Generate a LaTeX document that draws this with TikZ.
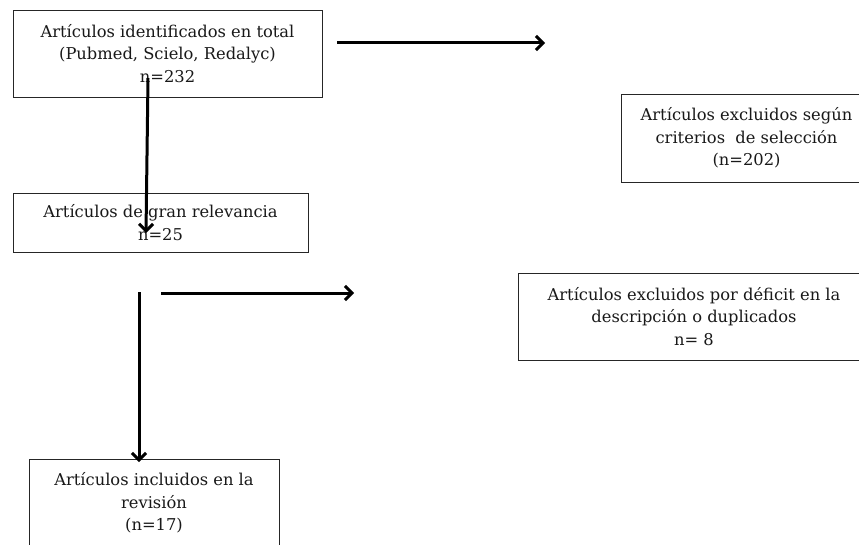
\documentclass[tikz,border=0pt]{standalone}
\usepackage{fontspec}
\setmainfont{DejaVu Serif}
\usetikzlibrary{arrows.meta, positioning}

\begin{document}
\begin{tikzpicture}[x=1pt, y=-1pt, >={Straight Barb[length=7pt, width=14pt]},
  flowbox/.style={draw=black!85, line width=0.9pt, align=center, inner sep=0pt,
                  font=\fontsize{16.3}{22.5}\selectfont, text=black!90},
  flowarrow/.style={->, line width=3pt}
]

% Frame
\useasboundingbox (0,0) rectangle (859,545);
\clip (0,0) rectangle (859,545);
\fill[white] (0,0) rectangle (859,545);

% Boxes
\node[flowbox, minimum width=309pt, minimum height=87pt] (total) at (167.5,53.5)
  {Artículos identificados en total\\(Pubmed, Scielo, Redalyc)\\n=232};
\node[flowbox, minimum width=295pt, minimum height=59pt] (relev) at (160.5,222.5)
  {Artículos de gran relevancia\\n=25};
\node[flowbox, minimum width=251pt, minimum height=88pt] (excl-sel) at (746.5,138)
  {Artículos excluidos según\\criterios \ de selección\\(n=202)};
\node[flowbox, minimum width=352pt, minimum height=87pt] (excl-def) at (694,316.5)
  {Artículos excluidos por déficit en la\\descripción o duplicados\\n= 8};
\node[flowbox, minimum width=250pt, minimum height=88pt] (incl) at (154,503)
  {Artículos incluidos en la\\revisión\\(n=17)};

% Arrow ends
\coordinate (sel-start) at (337,43);
\coordinate (sel-end) at (545,43);
\coordinate (rel-start) at (148,78);
\coordinate (rel-end) at (146,233);
\coordinate (def-start) at (161,293);
\coordinate (def-end) at (354,293);
\coordinate (inc-start) at (139,292);
\coordinate (inc-end) at (139,462);

% Arrows
\draw[flowarrow] (sel-start) -- (sel-end);
\draw[flowarrow] (rel-start) -- (rel-end);
\draw[flowarrow] (def-start) -- (def-end);
\draw[flowarrow] (inc-start) -- (inc-end);

\end{tikzpicture}
\end{document}
